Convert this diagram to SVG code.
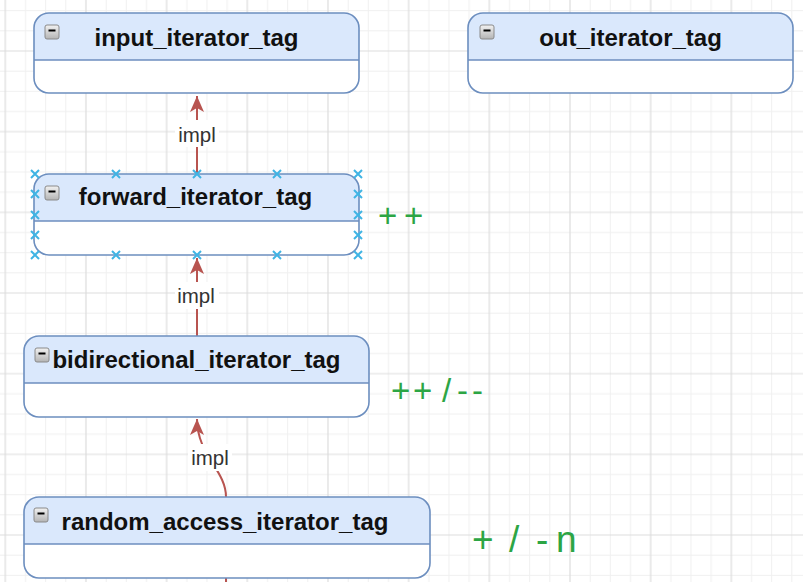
<svg xmlns="http://www.w3.org/2000/svg" width="803" height="582" viewBox="0 0 803 582">
<style>
.box{fill:#ffffff;stroke:none}
.hdr{fill:#dae8fc;stroke:none}
.outline{fill:none;stroke:#6c8ebf;stroke-width:1.6}
.div{stroke:#6c8ebf;stroke-width:1.6}
.title{font-family:"Liberation Sans",Arial,sans-serif;font-weight:bold;font-size:24px;fill:#111111;text-anchor:middle}
.lbl{font-family:"Liberation Sans",Arial,sans-serif;font-size:20.5px;fill:#333333;text-anchor:middle}
.edge{fill:none;stroke:#b85450;stroke-width:2}
.green{font-family:"Liberation Sans",Arial,sans-serif;fill:#2ca544}
.xm{stroke:#3fb4e4;stroke-width:2;fill:none}
</style>
<defs>
<pattern id="grid" width="80.67" height="80.67" patternUnits="userSpaceOnUse" x="4.3" y="50">
<path d="M21.17 0V80.67M41.33 0V80.67M61.5 0V80.67M0 21.17H80.67M0 41.33H80.67M0 61.5H80.67" stroke="#f0f0f0" stroke-width="1"/>
<path d="M1 0V80.67M0 1H80.67" stroke="#dddddd" stroke-width="1.2"/>
</pattern>
<linearGradient id="ig" x1="0" y1="0" x2="0" y2="1">
<stop offset="0" stop-color="#f2f2f2"/>
<stop offset="1" stop-color="#b4b4b4"/>
</linearGradient>
<g id="icon">
<rect x="0" y="0" width="14" height="14" rx="2" fill="url(#ig)" stroke="#8a8a8a" stroke-width="1"/>
<line x1="3.5" y1="5.5" x2="10.5" y2="5.5" stroke="#000" stroke-width="2"/>
</g>
<path id="xmk" class="xm" d="M-4 -4L4 4M-4 4L4 -4"/>
<marker id="arr" markerWidth="16" markerHeight="14" refX="16" refY="7" orient="auto" markerUnits="userSpaceOnUse">
<path d="M0 0L16 7L0 14L4 7Z" fill="#b85450"/>
</marker>
</defs>
<rect width="803" height="582" fill="#ffffff"/>
<rect width="803" height="582" fill="url(#grid)"/>

<g id="connectors">
<path class="edge" d="M197 174V96" marker-end="url(#arr)"/>
<rect x="175" y="120" width="44" height="27" fill="#ffffff"/>
<text class="lbl" x="197" y="142">impl</text>
<path class="edge" d="M197 336V258" marker-end="url(#arr)"/>
<rect x="175" y="282" width="44" height="27" fill="#ffffff"/>
<text class="lbl" x="196" y="303">impl</text>
<path class="edge" d="M226 497C226 470 197 455 197 419" marker-end="url(#arr)"/>
<rect x="188" y="444" width="44" height="27" fill="#ffffff"/>
<text class="lbl" x="210" y="465">impl</text>
<path class="edge" d="M226 578V590"/>
</g>

<g id="input_iterator_tag">
<rect class="box" x="34" y="13" width="325" height="80" rx="15"/>
<path class="hdr" d="M34 60V28A15 15 0 0 1 49 13H344A15 15 0 0 1 359 28V60Z"/>
<line class="div" x1="34" y1="60" x2="359" y2="60"/>
<rect class="outline" x="34" y="13" width="325" height="80" rx="15"/>
<use href="#icon" x="45" y="25"/>
<text class="title" x="196.5" y="46">input_iterator_tag</text>
</g>

<g id="out_iterator_tag">
<rect class="box" x="468" y="13" width="325" height="80" rx="15"/>
<path class="hdr" d="M468 60V28A15 15 0 0 1 483 13H778A15 15 0 0 1 793 28V60Z"/>
<line class="div" x1="468" y1="60" x2="793" y2="60"/>
<rect class="outline" x="468" y="13" width="325" height="80" rx="15"/>
<use href="#icon" x="480" y="25"/>
<text class="title" x="630.5" y="46">out_iterator_tag</text>
</g>

<g id="forward_iterator_tag">
<rect class="box" x="34" y="174" width="325" height="81" rx="15"/>
<path class="hdr" d="M34 221V189A15 15 0 0 1 49 174H344A15 15 0 0 1 359 189V221Z"/>
<line class="div" x1="34" y1="221" x2="359" y2="221"/>
<rect class="outline" x="34" y="174" width="325" height="81" rx="15"/>
<use href="#icon" x="45" y="186"/>
<text class="title" x="195.5" y="205">forward_iterator_tag</text>
</g>

<g id="bidirectional_iterator_tag">
<rect class="box" x="24" y="336" width="345" height="81" rx="15"/>
<path class="hdr" d="M24 383V351A15 15 0 0 1 39 336H354A15 15 0 0 1 369 351V383Z"/>
<line class="div" x1="24" y1="383" x2="369" y2="383"/>
<rect class="outline" x="24" y="336" width="345" height="81" rx="15"/>
<use href="#icon" x="35" y="348"/>
<text class="title" x="196.5" y="368">bidirectional_iterator_tag</text>
</g>

<g id="random_access_iterator_tag">
<rect class="box" x="24" y="497" width="406" height="81" rx="15"/>
<path class="hdr" d="M24 544V512A15 15 0 0 1 39 497H415A15 15 0 0 1 430 512V544Z"/>
<line class="div" x1="24" y1="544" x2="430" y2="544"/>
<rect class="outline" x="24" y="497" width="406" height="81" rx="15"/>
<use href="#icon" x="34" y="508"/>
<text class="title" x="225" y="530">random_access_iterator_tag</text>
</g>

<g id="selection">
<use href="#xmk" x="35" y="174"/><use href="#xmk" x="116" y="174"/><use href="#xmk" x="197" y="174"/><use href="#xmk" x="277" y="174"/><use href="#xmk" x="358" y="174"/>
<use href="#xmk" x="35" y="255"/><use href="#xmk" x="116" y="255"/><use href="#xmk" x="197" y="255"/><use href="#xmk" x="277" y="255"/><use href="#xmk" x="358" y="255"/>
<use href="#xmk" x="35" y="194"/><use href="#xmk" x="35" y="215"/><use href="#xmk" x="35" y="235"/>
<use href="#xmk" x="358" y="194"/><use href="#xmk" x="358" y="215"/><use href="#xmk" x="358" y="235"/>
</g>

<g id="notes">
<text class="green" font-size="33" x="378 404" y="227">++</text>
<text class="green" font-size="33" x="391 413 442 457 472" y="402">++/--</text>
<text class="green" font-size="37" x="472 495 509 528 536 552 556" y="552">+ / - n</text>
</g>
</svg>
